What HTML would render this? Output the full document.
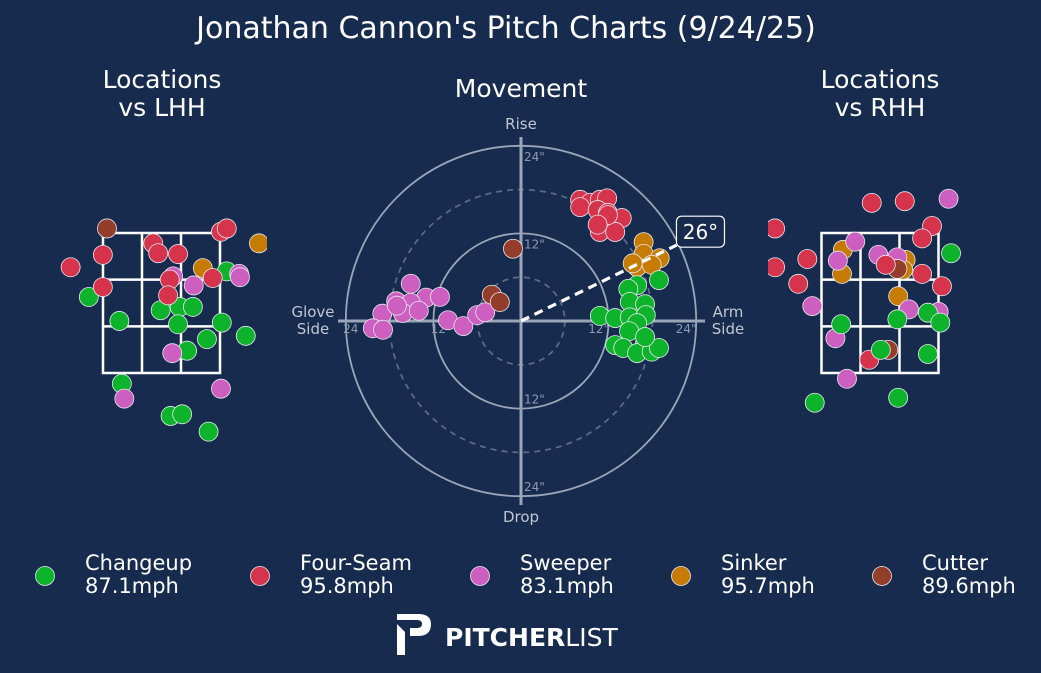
<!DOCTYPE html>
<html><head><meta charset="utf-8">
<style>
html,body{margin:0;padding:0;background:#162b4e;}
svg{display:block;font-family:"DejaVu Sans","Liberation Sans",sans-serif;}
</style></head>
<body>
<svg id="chart" width="1041" height="673" viewBox="0 0 1041 673">
<rect width="1041" height="673" fill="#162b4e"/>
<text x="506" y="38" font-size="30" fill="#fff" text-anchor="middle">Jonathan Cannon's Pitch Charts (9/24/25)</text>
<text x="162" y="88" font-size="25" fill="#fff" text-anchor="middle"><tspan x="162">Locations</tspan><tspan x="162" dy="28">vs LHH</tspan></text>
<text x="880" y="88" font-size="25" fill="#fff" text-anchor="middle"><tspan x="880">Locations</tspan><tspan x="880" dy="28">vs RHH</tspan></text>
<text x="521" y="97" font-size="25" fill="#fff" text-anchor="middle">Movement</text>
<defs>
<clipPath id="clipL"><rect x="40" y="150" width="227" height="320"/></clipPath>
<clipPath id="clipR"><rect x="768" y="150" width="240" height="320"/></clipPath>
</defs>
<g id="mov"></g>
<g id="locL" clip-path="url(#clipL)"></g>
<g id="locR" clip-path="url(#clipR)"></g>
<g id="legend"></g>
<g>
<path d="M397 624 L397 655 L405 655 L405 632 L397 624 Z M397 614 L418 614 Q431 614 431 624 Q431 636 418 636 L410 636 L410 628 L417 628 Q422 628 422 624 Q422 620 417 620 L397 620 Z" fill="#fff"/>
<text x="445" y="646" font-size="25" fill="#fff" font-weight="bold">PITCHER<tspan font-weight="normal">LIST</tspan></text>
</g>
</svg>
<script>
const NS="http://www.w3.org/2000/svg";
const pitchTypes=["Changeup","Four-Seam","Sweeper","Sinker","Cutter"];
const pitchSpeeds=["87.1mph","95.8mph","83.1mph","95.7mph","89.6mph"];
const pitchColors=["#0db42b","#d6334c","#cc5fc0","#c67c02","#953d2b"];
// Movement (inches): horizontal break, induced vertical break
const movCH_x=[18.9,15.9,14.7,14.9,17.0,10.8,12.9,14.9,17.1,15.9,14.8,17.0,12.9,14.0,15.9,17.9,18.9,17.0];
const movCH_y=[5.6,4.9,4.4,2.6,2.3,0.7,0.4,0.5,0.8,-0.3,-1.4,-2.9,-3.3,-3.7,-4.4,-4.2,-3.7,-2.2];
const movFF_x=[8.1,9.5,10.8,11.8,8.1,10.5,11.9,13.8,10.8,12.9,11.9,10.5];
const movFF_y=[16.6,16.2,16.6,16.8,15.6,15.2,14.8,14.1,12.2,12.2,14.5,13.2];
const movSW_x=[-15.1,-17.1,-13.0,-11.1,-15.1,-16.2,-14.0,-19.0,-20.3,-18.9,-10.0,-7.9,-6.0,-4.9,-17.0];
const movSW_y=[5.1,2.7,3.2,3.3,2.5,1.1,1.4,1.0,-1.0,-1.2,0.1,-0.7,0.8,1.2,2.1];
const movSI_x=[16.8,16.8,19.0,15.9,17.9,15.3];
const movSI_y=[10.8,9.2,8.6,7.4,7.7,7.9];
const movFC_x=[-1.1,-4.0,-2.9];
const movFC_y=[9.9,3.6,2.6];
const armAngle=26;
const ringTicks=[12,24];
// Locations (feet): plate_x, plate_z
const lCH_x=[-0.88,-0.51,-0.01,0.22,0.38,0.20,0.73,0.79,1.02,0.55,0.31,-0.48,0.11,0.25,0.57];
const lCH_z=[2.42,2.13,2.26,2.30,2.30,2.09,2.11,2.73,1.95,1.91,1.77,1.37,0.98,1.00,0.79];
const lSW_x=[0.14,0.39,0.94,0.95,0.13,-0.45,0.72];
const lSW_z=[2.67,2.56,2.70,2.66,1.74,1.19,1.31];
const lSI_x=[1.18,0.50];
const lSI_z=[3.07,2.77];
const lFF_x=[-1.10,-0.71,-0.71,-0.10,-0.04,0.20,0.10,0.08,0.62,0.72,0.79];
const lFF_z=[2.78,2.93,2.54,3.07,2.95,2.94,2.63,2.44,2.65,3.21,3.25];
const lFC_x=[-0.66];
const lFC_z=[3.25];
const rCH_x=[0.86,-0.47,0.21,0.58,0.73,0.01,0.58,-0.79,0.22];
const rCH_z=[2.95,2.09,2.15,2.23,2.11,1.78,1.73,1.14,1.20];
const rSW_x=[0.83,-0.30,-0.51,-0.02,0.21,-0.82,0.35,0.71,-0.54,-0.40];
const rSW_z=[3.61,3.09,2.86,2.93,2.90,2.31,2.27,2.24,1.92,1.43];
const rSI_x=[-0.45,-0.46,0.31,0.28,0.22];
const rSI_z=[2.99,2.70,2.87,2.75,2.43];
const rFF_x=[-0.10,0.30,-1.27,-1.27,-0.88,-0.99,0.63,0.51,0.07,0.51,0.75,-0.13];
const rFF_z=[3.56,3.58,3.25,2.78,2.88,2.58,3.28,3.13,2.81,2.70,2.55,1.66];
const rFC_x=[0.21,0.10];
const rFC_z=[2.76,1.78];

function mk(tag,attrs,parent){const e=document.createElementNS(NS,tag);for(const k in attrs)e.setAttribute(k,attrs[k]);parent.appendChild(e);return e;}

// ---- Movement plot
const mov=document.getElementById('mov');
const MCX=521,MCY=321,PPI=7.3;
const mx=v=>MCX+v*PPI, my=v=>MCY-v*PPI;
[6,18].forEach(r=>{const c=mk('circle',{cx:MCX,cy:MCY,r:r*PPI,fill:'none',stroke:'#5a6a86','stroke-width':1.8,'stroke-dasharray':'6,5'},mov);

});
ringTicks.forEach(r=>{const c=mk('circle',{cx:MCX,cy:MCY,r:r*PPI,fill:'none',stroke:'#9aa5b8','stroke-width':1.8},mov);

});
let ax=mk('line',{x1:MCX,y1:137,x2:MCX,y2:505,stroke:'#9aa5b8','stroke-width':3},mov);


ax=mk('line',{x1:338,y1:MCY,x2:705,y2:MCY,stroke:'#9aa5b8','stroke-width':3},mov);


ringTicks.forEach(r=>{
  [[MCX+3,my(r)+15,'start',true],[MCX+3,my(-r)-5,'start',true],[mx(r)-10,MCY+12,'middle',true],[mx(-r)+5,MCY+12,'middle',false]].forEach((p,i)=>{
    const t=mk('text',{x:p[0],y:p[1],'font-size':12,fill:'#8e9ab0','text-anchor':p[2]},mov);
    t.textContent=r+(p[3]?'"':'');
    
    
  });
});
[['Rise',521,129,'axis-label-rise'],['Drop',521,522,'axis-label-drop']].forEach(a=>{const t=mk('text',{x:a[1],y:a[2],'font-size':15,fill:'#c0c7d3','text-anchor':'middle'},mov);t.textContent=a[0];

});
[['Glove','Side',313,'axis-label-glove-side'],['Arm','Side',728,'axis-label-arm-side']].forEach(a=>{const t=mk('text',{x:a[2],y:317,'font-size':15,fill:'#c0c7d3','text-anchor':'middle'},mov);
t.innerHTML='<tspan x="'+a[2]+'">'+a[0]+'</tspan><tspan x="'+a[2]+'" dy="17">'+a[1]+'</tspan>';

});
const movSets=[[movSW_x,movSW_y,2],[movFC_x,movFC_y,4],[movFF_x,movFF_y,1],[movSI_x,movSI_y,3],[movCH_x,movCH_y,0]];
movSets.forEach(s=>{s[0].forEach((v,i)=>{const c=mk('circle',{cx:mx(v),cy:my(s[1][i]),r:9.5,fill:pitchColors[s[2]],stroke:'#e8e8f0','stroke-width':0.8},mov);

});});
const aa=armAngle*Math.PI/180, R=24*PPI;
const al=mk('line',{x1:MCX,y1:MCY,x2:MCX+R*Math.cos(aa)-2,y2:MCY-R*Math.sin(aa)+1,stroke:'#fff','stroke-width':3.2,'stroke-dasharray':'9,6'},mov);


const bx=MCX+R*Math.cos(aa)-2, by=MCY-R*Math.sin(aa)-13;
const br=mk('rect',{x:bx,y:by-15,width:48,height:31,rx:5,fill:'#162b4e',stroke:'#fff','stroke-width':1.2},mov);


const bt=mk('text',{x:bx+24,y:by+8,'font-size':20,fill:'#fff','text-anchor':'middle'},mov);
bt.textContent=armAngle+'°';



// ---- Location plots
const PPF=82.6;
function locPlot(g,cx,sets,side){
  const lx=v=>cx+v*PPF, lz=v=>373-(v-1.5)*PPF;
  const zl=cx-58.5, zr=cx+58.5, zt=233, zb=373;
  const zone=mk('g',{stroke:'#fff','stroke-width':2.5,fill:'none'},g);
  
  
  mk('rect',{x:zl,y:zt,width:117,height:140},zone);
  [1,2].forEach(k=>{mk('line',{x1:zl+117*k/3,y1:zt,x2:zl+117*k/3,y2:zb},zone);mk('line',{x1:zl,y1:zt+140*k/3,x2:zr,y2:zt+140*k/3},zone);});
  const pl=mk('path',{d:`M${cx-50} 497 L${cx+50} 497 L${cx+49} 487 L${cx} 479 L${cx-49} 487 Z`,fill:'none',stroke:'#fff','stroke-width':1.8},g);
  
  
  sets.forEach(s=>{s[0].forEach((v,i)=>{const c=mk('circle',{cx:lx(v),cy:lz(s[1][i]),r:9.5,fill:pitchColors[s[2]],stroke:'#e8e8f0','stroke-width':0.8},g);
  
  });});
}
locPlot(document.getElementById('locL'),161.5,[[lCH_x,lCH_z,0],[lSW_x,lSW_z,2],[lSI_x,lSI_z,3],[lFF_x,lFF_z,1],[lFC_x,lFC_z,4]],'lhh');
locPlot(document.getElementById('locR'),880,[[rSI_x,rSI_z,3],[rSW_x,rSW_z,2],[rFC_x,rFC_z,4],[rFF_x,rFF_z,1],[rCH_x,rCH_z,0]],'rhh');

// ---- Legend
const leg=document.getElementById('legend');
const legX=[45,260,480,681,882];
pitchTypes.forEach((p,i)=>{
  const c=mk('circle',{cx:legX[i],cy:576,r:9.5,fill:pitchColors[i],stroke:'#e8e8f0','stroke-width':0.8},leg);
  
  
  const t=mk('text',{x:legX[i]+40,y:570,'font-size':21,fill:'#fff'},leg);
  t.innerHTML='<tspan x="'+(legX[i]+40)+'">'+p+'</tspan><tspan x="'+(legX[i]+40)+'" dy="23">'+pitchSpeeds[i]+'</tspan>';
  
  
});
</script>
</body></html>
